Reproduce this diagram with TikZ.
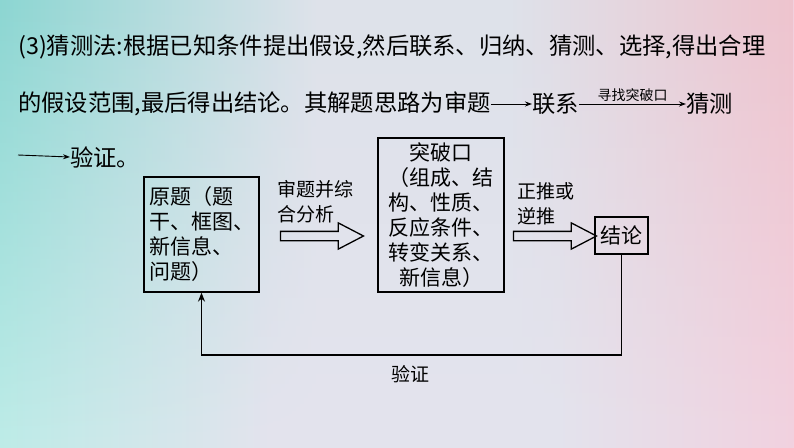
\documentclass[tikz,border=0pt]{standalone}
\usepackage{fontspec}
\setmainfont{Noto Sans CJK SC}
\usetikzlibrary{shapes.arrows,arrows.meta,calc,fadings}
\definecolor{tA}{RGB}{140,214,210}
\definecolor{tB}{RGB}{222,226,234}
\definecolor{tC}{RGB}{238,196,206}
\definecolor{bA}{RGB}{190,236,232}
\definecolor{bB}{RGB}{228,228,238}
\definecolor{bC}{RGB}{242,210,224}
\pgfdeclarehorizontalshading{topshade}{100bp}{color(0bp)=(tA); color(25bp)=(tA); color(45bp)=(tB); color(57bp)=(tB); color(75bp)=(tC); color(100bp)=(tC)}
\pgfdeclarehorizontalshading{botshade}{100bp}{color(0bp)=(bA); color(25bp)=(bA); color(42bp)=(bB); color(60bp)=(bB); color(75bp)=(bC); color(100bp)=(bC)}
\begin{document}
\begin{tikzpicture}[x=1pt,y=-1pt,
  txt/.style={inner sep=0pt, anchor=west, font=\fontsize{23.3}{23}\selectfont},
  box/.style={draw=black, line width=1.3pt, inner sep=0pt, font=\fontsize{21}{25}\selectfont},
  lbl/.style={inner sep=0pt, align=left, font=\fontsize{19}{25}\selectfont},
  thinarrow/.style={line width=0.9pt, -{Stealth[length=7pt,width=5pt]}},
  hollow/.style={single arrow, draw=black, line width=1.3pt, inner sep=4pt, minimum width=25pt,
    single arrow head extend=8.5pt, single arrow tip angle=55, minimum height=83pt},
  fbline/.style={line width=1.3pt, -{Stealth[length=9pt,width=7pt]}}
]
\useasboundingbox (0,0) rectangle (794,447);
\shade[shading=botshade] (0,0) rectangle (794,447);
\shade[shading=topshade, path fading=south] (0,0) rectangle (794,447);

% top text
\node[txt] (l1) at (18,47) {(3)猜测法:根据已知条件提出假设,然后联系、归纳、猜测、选择,得出合理};
\node[txt] (l2) at (18,104) {的假设范围,最后得出结论。其解题思路为审题};
\node[txt] (lx) at (532,104) {联系};
\node[txt] (cc) at (686,104) {猜测};
\draw[thinarrow] (l2.east) -- (lx.west);
\draw[thinarrow] (lx.east) -- node[above=2pt, inner sep=0pt, font=\fontsize{14}{14}\selectfont] (xz) {寻找突破口} (cc.west);
\coordinate (s3) at (18,155);
\node[txt] (yz) at (70,157) {验证。};
\draw[thinarrow] (s3) -- (yz.west);

% boxes
\node[box, minimum width=115pt, minimum height=115pt, text width=105pt, align=left] (yt) at (201.5,234.5)
  {原题（题\\干、框图、\\新信息、\\问题）};
\node[box, minimum width=126pt, minimum height=154pt, text width=115pt, align=center] (tp) at (441,215)
  {突破口\\（组成、结\\构、性质、\\反应条件、\\转变关系、\\新信息）};
\node[box, minimum width=53pt, minimum height=37pt] (jl) at (621.5,235.5) {结论};

% hollow arrows
\node[hollow] (h1) at (317.5,236) {};
\node[hollow] (h2) at (550.5,236) {};
\node[lbl, anchor=south west] (t1) at (277,223) {审题并综\\合分析};
\node[lbl, anchor=south west] (t2) at (517,225) {正推或\\逆推};

% feedback
\coordinate (fb) at (410,355);
\draw[fbline] (jl.south) |- (fb) -| (yt.south);
\node[lbl] (vf) at (410,374) {验证};
\end{tikzpicture}
\end{document}
